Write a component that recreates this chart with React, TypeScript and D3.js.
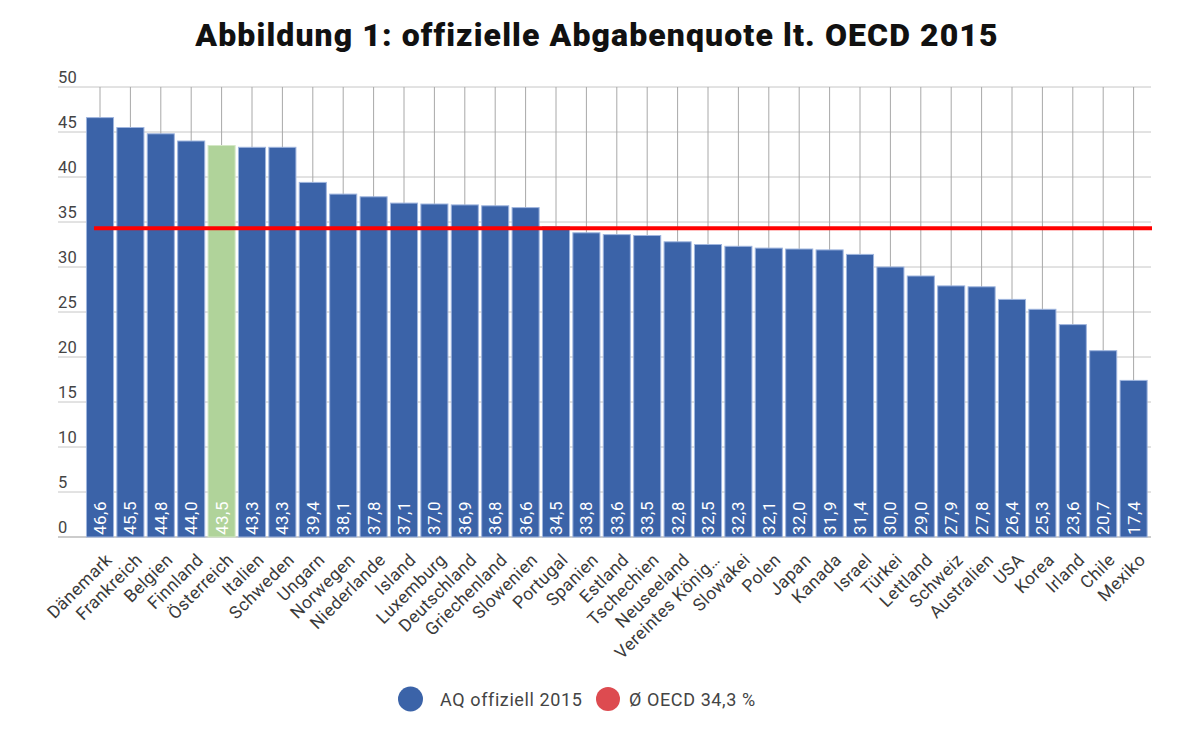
import React from "react";
import * as d3 from "d3";

const countries = ["Dänemark","Frankreich","Belgien","Finnland","Österreich","Italien","Schweden","Ungarn","Norwegen","Niederlande","Island","Luxemburg","Deutschland","Griechenland","Slowenien","Portugal","Spanien","Estland","Tschechien","Neuseeland","Vereintes Königreich","Slowakei","Polen","Japan","Kanada","Israel","Türkei","Lettland","Schweiz","Australien","USA","Korea","Irland","Chile","Mexiko"];
const values = [46.6,45.5,44.8,44.0,43.5,43.3,43.3,39.4,38.1,37.8,37.1,37.0,36.9,36.8,36.6,34.5,33.8,33.6,33.5,32.8,32.5,32.3,32.1,32.0,31.9,31.4,30.0,29.0,27.9,27.8,26.4,25.3,23.6,20.7,17.4];
const highlight = "Österreich";
const oecdAvg = 34.3;
const yTicks = [0,5,10,15,20,25,30,35,40,45,50];
const title = "Abbildung 1: offizielle Abgabenquote lt. OECD 2015";
const legendItems = ["AQ offiziell 2015", "Ø OECD 34,3 %"];

const W = 1200, H = 740;
const FONT = "Roboto, 'Noto Sans', Arial, sans-serif";

function shortLabel(s: string) {
  return s.length > 16 ? s.slice(0, 15) + "…" : s;
}

export default function App() {
  const x = d3.scaleBand<string>().domain(countries).range([84.8, 1148.8]).paddingInner(0.11).paddingOuter(0.055);
  const y = d3.scaleLinear().domain([0, 50]).range([537, 87]);
  const fmt = (v: number) => v.toFixed(1).replace(".", ",");
  const gridLeft = 58, gridRight = 1151;
  const cx = (c: string) => x(c)! + x.bandwidth() / 2;
  return (
    <svg width={W} height={H} style={{ position: "absolute", left: 0, top: 0, background: "#fff" }} fontFamily={FONT}>
      <rect x={0} y={0} width={W} height={H} fill="#fff" />
      <text x={597} y={46} textAnchor="middle" fontSize={32} fontWeight={900} letterSpacing={1.1} fill="#111">{title}</text>
      {yTicks.map((t) => (
        <g key={t}>
          <line x1={gridLeft} x2={gridRight} y1={y(t)} y2={y(t)} stroke={t === 0 ? "#999" : "#c6c6c6"} strokeWidth={1} />
          <text x={gridLeft} y={y(t) - 4} fontSize={16.5} letterSpacing={0.3} fill="#444">{t}</text>
        </g>
      ))}
      {countries.map((c) => (
        <line key={"v" + c} x1={cx(c)} x2={cx(c)} y1={y(50)} y2={y(0)} stroke="#a8a8a8" strokeWidth={1} />
      ))}
      {countries.map((c, i) => (
        <rect key={"b" + c} x={x(c)!} y={y(values[i])} width={x.bandwidth()} height={y(0) - y(values[i])}
          fill={c === highlight ? "#b0d39a" : "#3b63a8"} stroke={c === highlight ? "#d4e8c6" : "#9fb5de"} strokeWidth={1} />
      ))}
      <line x1={94} x2={1152} y1={y(oecdAvg)} y2={y(oecdAvg)} stroke="#ff0000" strokeWidth={4} />
      {countries.map((c, i) => (
        <text key={"l" + c} transform={`translate(${cx(c) + 6},${y(0) - 2}) rotate(-90)`} fontSize={17} letterSpacing={0.5} fill="#fff">{fmt(values[i])}</text>
      ))}
      {countries.map((c) => (
        <text key={"x" + c} transform={`translate(${cx(c) + 13},${y(0) + 24}) rotate(-45)`} textAnchor="end" fontSize={17.5} letterSpacing={0.4} fill="#3a3a3a">{shortLabel(c)}</text>
      ))}
      <circle cx={410.5} cy={699} r={12.5} fill="#3b63a8" />
      <text x={440} y={706} fontSize={18} letterSpacing={0.6} fill="#444">{legendItems[0]}</text>
      <circle cx={608} cy={699} r={12} fill="#dd4b50" />
      <text x={629} y={706} fontSize={18} letterSpacing={0.6} fill="#444">{legendItems[1]}</text>
    </svg>
  );
}
